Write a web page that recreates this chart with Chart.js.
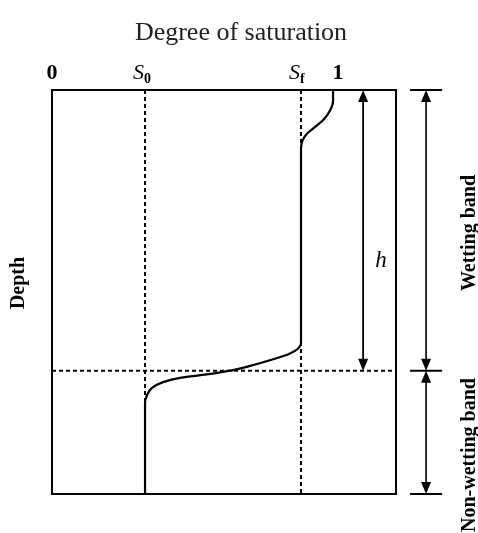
<!DOCTYPE html>
<html>
<head>
<meta charset="utf-8">
<script src="https://cdn.jsdelivr.net/npm/chart.js@4/dist/chart.umd.min.js"></script>
<style>
  html, body { margin: 0; padding: 0; background: #fff; }
  #wrap { width: 478px; height: 533px; overflow: hidden; }
</style>
</head>
<body>
<div id="wrap"><canvas id="satChart" width="478" height="533"></canvas></div>
<script>
// Saturation profile along depth (depth 0 = surface, 100 = bottom of column)
const saturation = [1.0, 1.0, 0.99, 0.965, 0.935, 0.907, 0.892, 0.886, 0.886, 0.886,
  0.876, 0.845, 0.79, 0.72, 0.64, 0.55, 0.46, 0.395, 0.355, 0.338, 0.331, 0.331];
const depth = [0, 2.8, 5.0, 7.4, 9.2, 10.8, 12.4, 14.4, 40, 62.6,
  64.0, 65.3, 66.6, 68.0, 69.4, 70.4, 71.2, 72.3, 73.8, 75.6, 77.4, 100];

// Reference levels
const S0 = 0.331;
const Sf = 0.886;
const frontDepth = 69.5;   // bottom of the wetting band

// Top axis ticks
const tickValues = [0, S0, Sf, 1];
const tickLabels = ['0', 'S0', 'Sf', '1'];

// Positions of the annotation arrows (in saturation units)
const hArrowX = 1.107;
const bandArrowX = 1.331;
const bandTickFrom = 1.274;
const bandTickTo = 1.388;

const profile = saturation.map((s, i) => ({ x: s, y: depth[i] }));

function arrowHead(ctx, x, y, dir) {
  // dir: -1 points up, 1 points down
  ctx.beginPath();
  ctx.moveTo(x, y);
  ctx.lineTo(x - 5, y - dir * 12);
  ctx.lineTo(x + 5, y - dir * 12);
  ctx.closePath();
  ctx.fill();
}

function doubleArrow(ctx, x, y1, y2) {
  ctx.beginPath();
  ctx.moveTo(x, y1 + 10);
  ctx.lineTo(x, y2 - 10);
  ctx.stroke();
  arrowHead(ctx, x, y1, -1);
  arrowHead(ctx, x, y2, 1);
}

function rotatedText(ctx, text, x, y) {
  ctx.save();
  ctx.translate(x, y);
  ctx.rotate(-Math.PI / 2);
  ctx.fillText(text, 0, 0);
  ctx.restore();
}

const guides = {
  id: 'guides',
  beforeDatasetsDraw(chart) {
    const { ctx, chartArea: a, scales: { x, y } } = chart;
    ctx.save();
    ctx.strokeStyle = '#000';
    ctx.lineWidth = 2;
    ctx.setLineDash([4, 3]);
    [S0, Sf].forEach(v => {
      const px = x.getPixelForValue(v);
      ctx.beginPath();
      ctx.moveTo(px, a.top);
      ctx.lineTo(px, a.bottom);
      ctx.stroke();
    });
    const fy = y.getPixelForValue(frontDepth);
    ctx.beginPath();
    ctx.moveTo(a.left, fy);
    ctx.lineTo(a.right, fy);
    ctx.stroke();
    ctx.restore();
  },
  afterDraw(chart) {
    const { ctx, chartArea: a, scales: { x, y } } = chart;
    ctx.save();
    ctx.strokeStyle = '#000';
    ctx.fillStyle = '#000';

    // frame
    ctx.lineWidth = 2;
    ctx.strokeRect(a.left, a.top, a.right - a.left, a.bottom - a.top);

    const fy = y.getPixelForValue(frontDepth);

    // h arrow
    ctx.lineWidth = 1.8;
    doubleArrow(ctx, x.getPixelForValue(hArrowX), a.top, fy);

    // band arrows with end ticks
    const bx = x.getPixelForValue(bandArrowX);
    const t1 = x.getPixelForValue(bandTickFrom);
    const t2 = x.getPixelForValue(bandTickTo);
    ctx.lineWidth = 2;
    [a.top, fy, a.bottom].forEach(py => {
      ctx.beginPath();
      ctx.moveTo(t1, py);
      ctx.lineTo(t2, py);
      ctx.stroke();
    });
    ctx.lineWidth = 1.6;
    doubleArrow(ctx, bx, a.top, fy);
    doubleArrow(ctx, bx, fy, a.bottom);

    // title
    ctx.fillStyle = '#222';
    ctx.font = '26px "Liberation Serif"';
    ctx.textAlign = 'center';
    ctx.textBaseline = 'alphabetic';
    ctx.fillText('Degree of saturation', 241, 40);

    // top ticks
    ctx.fillStyle = '#000';
    const tickY = 79;
    tickValues.forEach((v, i) => {
      const px = x.getPixelForValue(v);
      const lab = tickLabels[i];
      if (lab.length === 1) {
        ctx.font = 'bold 22px "Liberation Serif"';
        ctx.textAlign = 'center';
        ctx.fillText(lab, px + (v === 1 ? 5 : 0), tickY);
      } else {
        ctx.font = 'italic 22px "Liberation Serif"';
        ctx.textAlign = 'right';
        ctx.fillText(lab[0], px - 1, tickY);
        ctx.font = 'bold 14px "Liberation Serif"';
        ctx.textAlign = 'left';
        ctx.fillText(lab[1], px - 1, tickY + 4);
      }
    });

    // h label
    ctx.font = 'italic 23px "Liberation Serif"';
    ctx.textAlign = 'center';
    ctx.fillText('h', 381, 267);

    // rotated labels
    ctx.textBaseline = 'middle';
    ctx.font = 'bold 20px "Liberation Serif"';
    rotatedText(ctx, 'Depth', 19, 283);
    rotatedText(ctx, 'Wetting band', 470, 233);
    rotatedText(ctx, 'Non-wetting band', 470, 455);
    ctx.restore();
  }
};

new Chart(document.getElementById('satChart'), {
  type: 'scatter',
  data: {
    datasets: [{
      data: profile,
      showLine: true,
      borderColor: '#000',
      borderWidth: 2.2,
      pointRadius: 0,
      cubicInterpolationMode: 'monotone'
    }]
  },
  options: {
    indexAxis: 'y',
    responsive: false,
    animation: false,
    layout: { padding: { left: 52, right: 82, top: 90, bottom: 39 } },
    plugins: { legend: { display: false }, tooltip: { enabled: false } },
    scales: {
      x: { type: 'linear', min: 0, max: 1.224, display: false },
      y: { type: 'linear', min: 0, max: 100, reverse: true, display: false }
    }
  },
  plugins: [guides]
});
</script>
</body>
</html>
